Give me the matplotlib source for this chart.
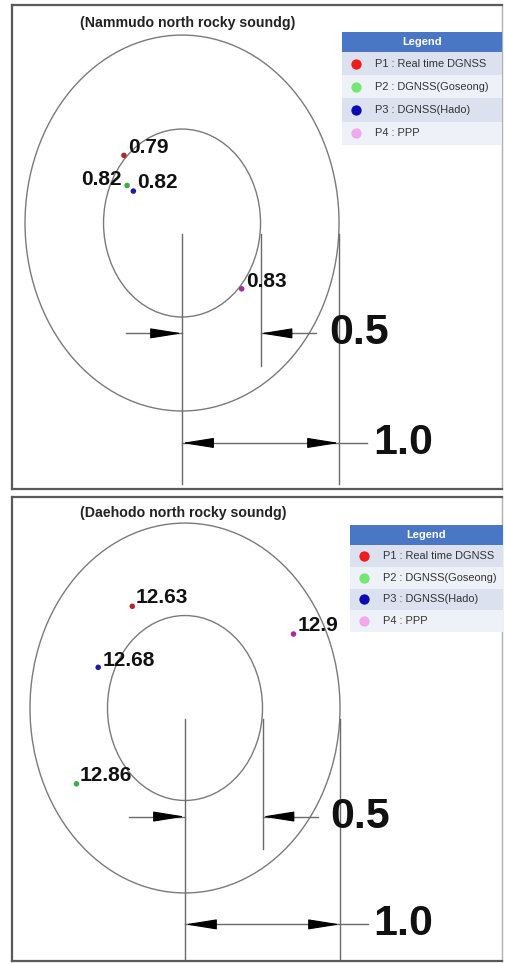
import matplotlib
matplotlib.use('Agg')
import matplotlib.pyplot as plt
from matplotlib.patches import Ellipse, Rectangle

# error circles (m)
radii = [0.5, 1.0]

# legend entries
legend_names = ['P1 : Real time DGNSS', 'P2 : DGNSS(Goseong)', 'P3 : DGNSS(Hado)', 'P4 : PPP']
legend_colors = ['#ee1c1c', '#72e872', '#0a0ab4', '#f2a8ee']
point_colors = ['#b02a2a', '#3cae48', '#1c1ca4', '#a2309c']

# Nammudo: position offset of each solution (m) and its depth label
nam_title = '(Nammudo north rocky soundg)'
nam_x = [-0.37, -0.35, -0.31, 0.38]
nam_y = [0.36, 0.20, 0.17, -0.35]
nam_vals = ['0.79', '0.82', '0.82', '0.83']

# Daehodo
dae_title = '(Daehodo north rocky soundg)'
dae_x = [-0.34, -0.70, -0.56, 0.70]
dae_y = [0.55, -0.41, 0.22, 0.40]
dae_vals = ['12.63', '12.86', '12.68', '12.9']

W, H = 506, 963
fig = plt.figure(figsize=(W / 100, H / 100), dpi=100)
fig.patch.set_facecolor('white')

SANS = ['Liberation Sans', 'DejaVu Sans']


def px_box(x0, y0, x1, y1):
    return [x0 / W, (H - y1) / H, (x1 - x0) / W, (y1 - y0) / H]


def arrow_head(ax, tip, frm):
    ax.annotate('', xy=tip, xytext=frm,
                arrowprops=dict(arrowstyle='-|>,head_length=2.0,head_width=0.32',
                                mutation_scale=10, color='black', lw=0.8,
                                shrinkA=0, shrinkB=0))


def panel(box, xlim, ylim, title, title_pos, xs, ys, vals, offs, legend_box):
    ax = fig.add_axes(px_box(*box))
    ax.set_xlim(*xlim)
    ax.set_ylim(*ylim)
    ax.set_xticks([])
    ax.set_yticks([])
    for side, sp in ax.spines.items():
        sp.set_color('#5a5a5a' if side != 'right' else '#b0b0b0')
        sp.set_linewidth(1.6 if side != 'right' else 1.0)

    for r in radii:
        ax.add_patch(Ellipse((0, 0), 2 * r, 2 * r, fill=False, ec='#7a7a7a', lw=1.0))

    # dimension lines
    g = '#6a6a6a'
    ax.plot([0, 0], [-0.06, -1.39], color=g, lw=1.0)
    ax.plot([0.5, 0.5], [-0.06, -0.76], color=g, lw=1.0)
    ax.plot([1.0, 1.0], [-0.06, -1.39], color=g, lw=1.0)

    y5 = -0.587
    ax.plot([-0.36, 0], [y5, y5], color=g, lw=1.0)
    ax.plot([0.5, 0.855], [y5, y5], color=g, lw=1.0)
    arrow_head(ax, (0, y5), (-0.2, y5))
    arrow_head(ax, (0.5, y5), (0.7, y5))
    ax.text(0.94, y5, '0.5', fontsize=31, fontweight='bold', family=SANS,
            va='center', ha='left', color='#111111')

    y10 = -1.17
    ax.plot([0, 1.18], [y10, y10], color=g, lw=1.0)
    arrow_head(ax, (0, y10), (0.2, y10))
    arrow_head(ax, (1.0, y10), (0.8, y10))
    ax.text(1.215, y10, '1.0', fontsize=31, fontweight='bold', family=SANS,
            va='center', ha='left', color='#111111')

    ax.scatter(xs, ys, s=16, c=point_colors, zorder=5, lw=0)
    for x, y, v, (dx, dy, ha) in zip(xs, ys, vals, offs):
        ax.annotate(v, (x, y), xytext=(dx, dy), textcoords='offset pixels',
                    fontsize=15, fontweight='bold', family=SANS,
                    ha=ha, va='center', color='#111111')

    ax.text(title_pos[0], title_pos[1], title, transform=ax.transAxes,
            fontsize=10.2, fontweight='bold', family=SANS, ha='center', va='center',
            color='#222222')

    # legend table
    lx0, ly0, lx1, ly1 = legend_box
    lg = fig.add_axes(px_box(lx0, ly0, lx1, ly1))
    lw_, lh = lx1 - lx0, ly1 - ly0
    lg.set_xlim(0, lw_)
    lg.set_ylim(lh, 0)
    lg.axis('off')
    head = 20
    rowh = (lh - head) / len(legend_names)
    lg.add_patch(Rectangle((0, 0), lw_, head, color='#4a76c6', lw=0))
    lg.text(lw_ / 2, head / 2 + 0.5, 'Legend', color='white', fontsize=8,
            fontweight='bold', family=SANS, ha='center', va='center')
    for i, (name, c) in enumerate(zip(legend_names, legend_colors)):
        y0 = head + i * rowh
        lg.add_patch(Rectangle((0, y0), lw_, rowh,
                               color='#dbe1ef' if i % 2 == 0 else '#eef1f7', lw=0))
        lg.scatter([14], [y0 + rowh / 2], s=55, color=c, lw=0)
        lg.text(33, y0 + rowh / 2, name, fontsize=7.9, family=SANS,
                ha='left', va='center', color='#333333')
    return ax


panel((12, 5, 502, 489), (-1.083, 2.038), (-1.415, 1.160),
      nam_title, (0.359, 0.963), nam_x, nam_y, nam_vals,
      [(4, 8, 'left'), (-5, 6, 'right'), (4, 9, 'left'), (4, 7, 'left')],
      (342, 32, 502, 145))

panel((12, 497, 502, 961), (-1.116, 2.045), (-1.368, 1.141),
      dae_title, (0.349, 0.966), dae_x, dae_y, dae_vals,
      [(3, 9, 'left'), (3, 8, 'left'), (4, 7, 'left'), (4, 9, 'left')],
      (350, 525, 503, 632))

fig.savefig('out.png', dpi=100, facecolor='white')
